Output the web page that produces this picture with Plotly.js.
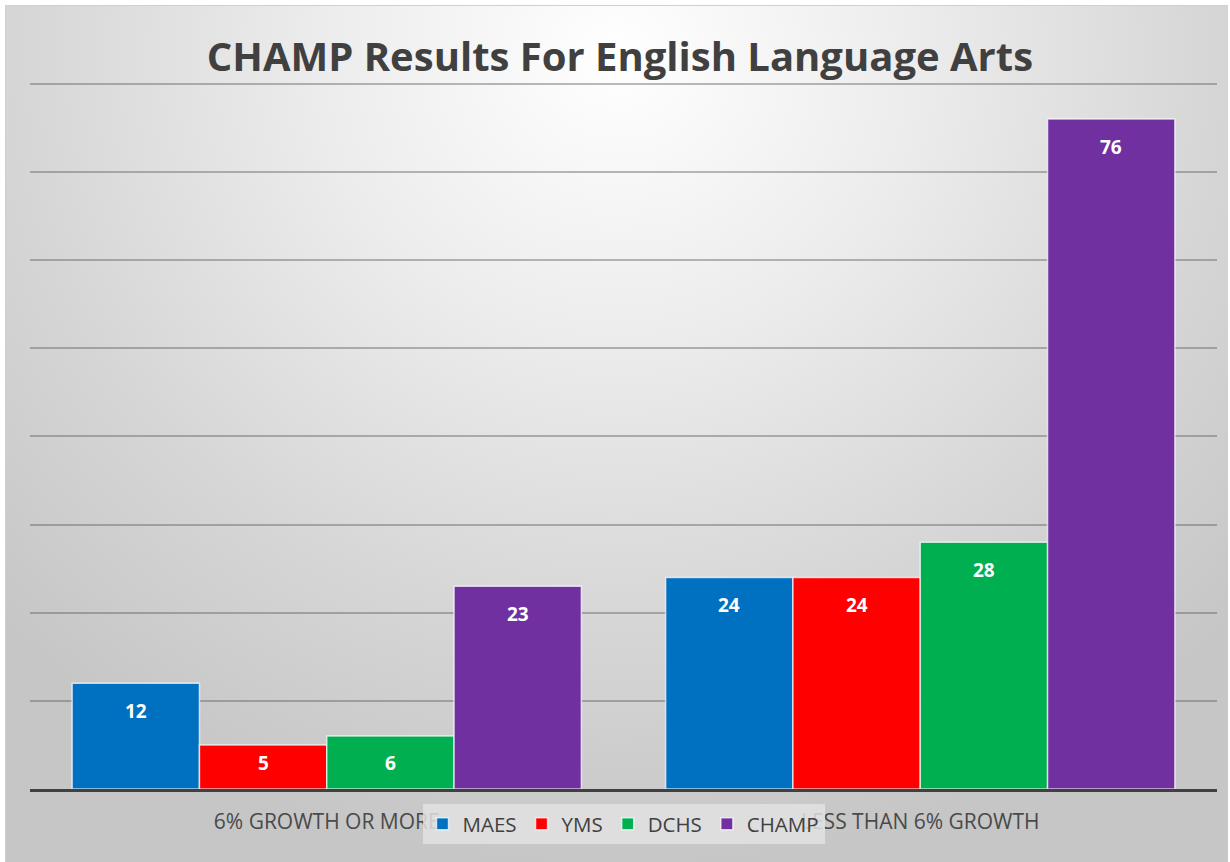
<!DOCTYPE html>
<html>
<head>
<meta charset="utf-8">
<script src="https://cdn.plot.ly/plotly-3.0.1.min.js"></script>
<style>
  html, body { margin:0; padding:0; background:#ffffff; }
  #bg { position:absolute; left:5px; top:5px; width:1223px; height:857px;
        border-top:1px solid #cfcfcf; border-left:1px solid #cfcfcf; box-sizing:border-box;
        background: radial-gradient(ellipse 70% 95% at 50% 6%, #ffffff 0%, #ececec 35%, #d6d6d6 70%, #c6c6c6 100%); }
  #chart { position:absolute; left:0; top:0; width:1230px; height:862px; }
</style>
</head>
<body>
<div id="bg"></div>
<div id="chart"></div>
<script>
const categories = ["6% GROWTH OR MORE", "LESS THAN 6% GROWTH"];
const seriesNames = ["MAES", "YMS", "DCHS", "CHAMP"];
const maes  = [12, 24];
const yms   = [5, 24];
const dchs  = [6, 28];
const champ = [23, 76];
const colors = ["#0070C0", "#FF0000", "#00B050", "#7030A0"];

const seriesValues = [maes, yms, dchs, champ];
const FONT = '"Open Sans", "Noto Sans", sans-serif';
const bargap = 0.142;
const yMax = 81;
const plotTop = 75, plotBottom = 789;
const pxPerUnit = (plotBottom - plotTop) / yMax;

const traces = seriesValues.map((vals, j) => ({
  type: 'bar',
  name: seriesNames[j],
  x: [0, 1],
  y: vals,
  marker: { color: colors[j], line: { color: 'rgba(255,255,255,0.7)', width: 1.5 } },
  hoverinfo: 'name+y'
}));

const barW = (1 - bargap) / seriesValues.length;
const annotations = [];
seriesValues.forEach((vals, j) => {
  vals.forEach((v, i) => {
    const h = v * pxPerUnit;
    const shift = Math.min(28, h - 26);
    annotations.push({
      x: i + (j - (seriesValues.length - 1) / 2) * barW,
      y: v, xref: 'x', yref: 'y',
      text: '<b>' + String(v) + '</b>', showarrow: false,
      yanchor: 'middle', xanchor: 'center', yshift: -shift,
      font: { family: FONT, size: 19, color: '#ffffff' }
    });
  });
});

const layout = {
  width: 1230, height: 862,
  margin: { l: 30, r: 13, t: plotTop, b: 862 - plotBottom },
  paper_bgcolor: 'rgba(0,0,0,0)',
  plot_bgcolor: 'rgba(0,0,0,0)',
  title: {
    text: '<b>CHAMP Results For English Language Arts</b>',
    xref: 'container', x: 0.504, yref: 'container', y: 1 - 57 / 862, yanchor: 'middle',
    font: { family: FONT, size: 40, color: '#404040' }
  },
  barmode: 'group',
  bargap: bargap,
  bargroupgap: 0,
  xaxis: {
    type: 'linear', range: [-0.5, 1.5],
    tickmode: 'array', tickvals: [0, 1], ticktext: categories,
    showgrid: false, zeroline: false,
    showline: true, linecolor: '#404040', linewidth: 3,
    ticks: '', ticklabelstandoff: 12,
    tickfont: { family: FONT, size: 21, color: '#4a4a4a' }
  },
  yaxis: {
    range: [0, yMax], dtick: 10, tick0: 0,
    showticklabels: false, ticks: '',
    showgrid: true, gridcolor: 'rgba(90,90,90,0.42)', gridwidth: 2,
    zeroline: false, showline: false
  },
  legend: {
    orientation: 'h', x: 0.5, xanchor: 'center', xref: 'paper',
    y: -(804 - plotBottom) / (plotBottom - plotTop), yanchor: 'top',
    bgcolor: 'rgba(226,226,226,0.85)',
    font: { family: FONT, size: 20.5, color: '#404040' },
    itemwidth: 30, traceorder: 'normal'
  },
  annotations: annotations,
  showlegend: true
};

Plotly.newPlot('chart', traces, layout, { displayModeBar: false, staticPlot: true });
</script>
</body>
</html>
